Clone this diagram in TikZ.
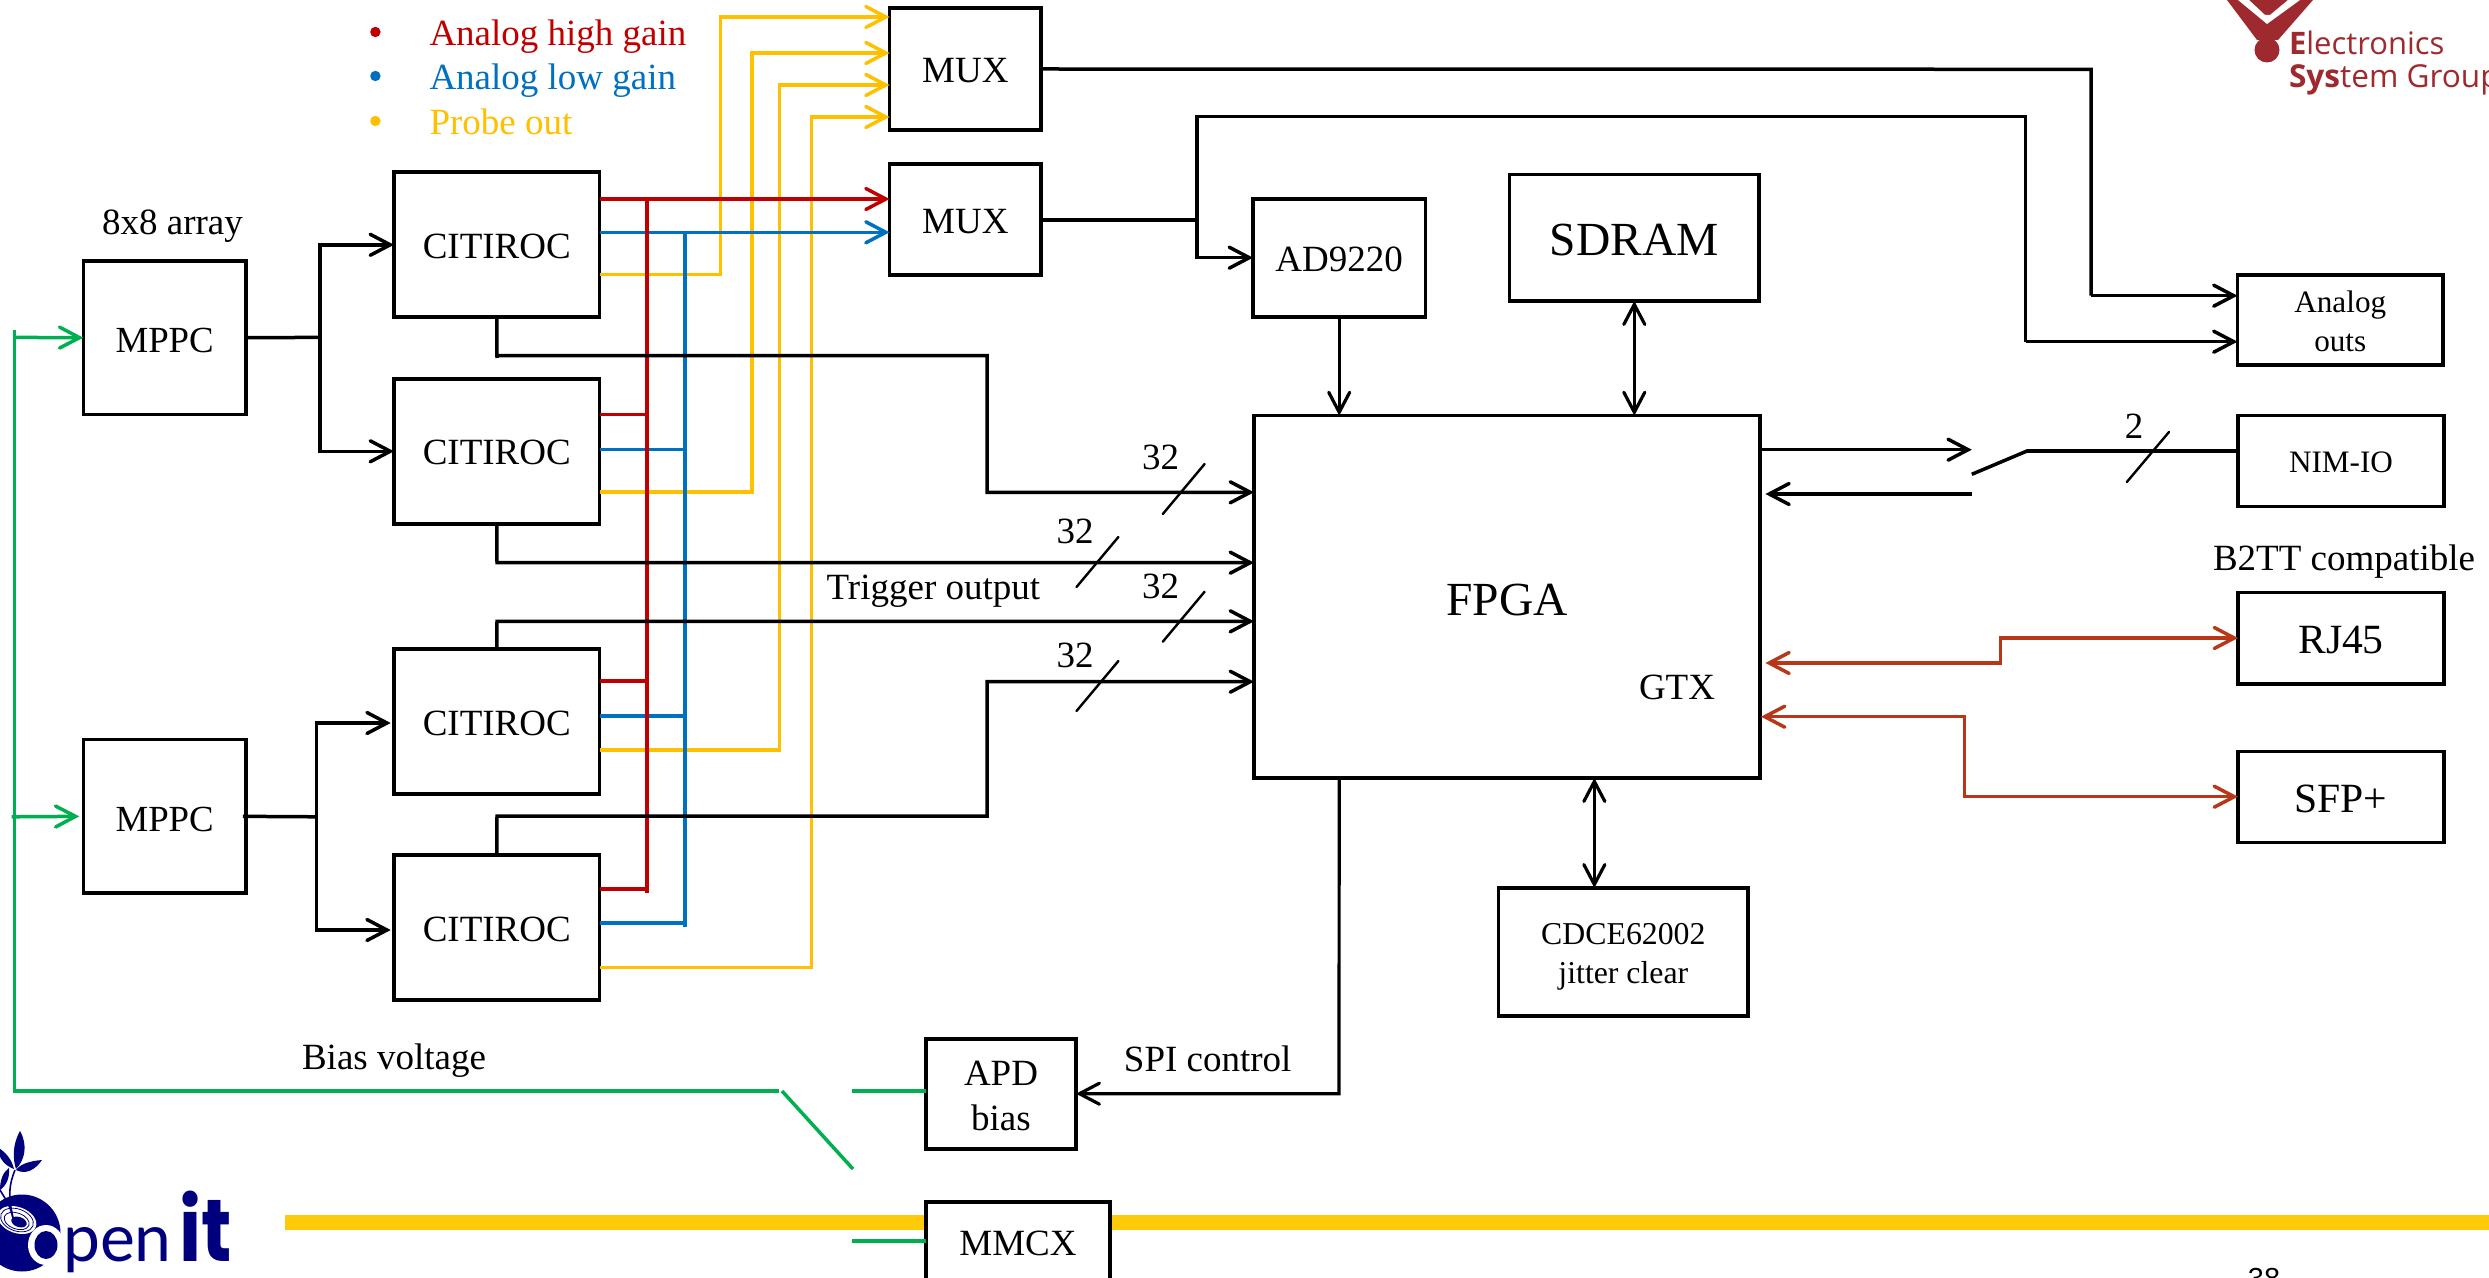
\documentclass[tikz,border=0pt]{standalone}
\usepackage{fontspec}
\usepackage{graphicx}
\setmainfont{Liberation Serif}
\newfontfamily\esgfont{Open Sans}
\newfontfamily\penfont{Lato}
\newfontfamily\itfont{Poppins}
\newfontfamily\pagefont{Liberation Sans}
\usetikzlibrary{arrows.meta}
\definecolor{cred}{HTML}{C00000}
\definecolor{cblue}{HTML}{0070C0}
\definecolor{cyel}{HTML}{FFC000}
\definecolor{cbar}{HTML}{FFCA08}
\definecolor{cgreen}{HTML}{00B050}
\definecolor{crust}{HTML}{B93719}
\definecolor{cesg}{HTML}{9E2A2F}
\definecolor{cnavy}{HTML}{00007F}
\tikzset{
  wire/.style={line width=1.75pt,line join=miter,line cap=butt},
  thinwire/.style={line width=1.6pt},
  tick/.style={line width=1.2pt,line cap=round},
  barb/.tip={Straight Barb[length=10pt,width=10.5pt,line cap=round]},
  boxnode/.style={draw=black,fill=white,line width=1.75pt,inner sep=0pt,outer sep=0pt,text=black,align=center},
  lab/.style={anchor=base,inner sep=0pt,outer sep=0pt},
  bul/.style={circle,inner sep=0pt,minimum size=5.2pt},
}
\newcommand{\bx}[8]{%
  \pgfmathsetmacro\bxcx{(#2+#4)/2}\pgfmathsetmacro\bxcy{(#3+#5)/2}%
  \pgfmathsetmacro\bxw{(#4-#2)*.5}\pgfmathsetmacro\bxh{(#5-#3)*.5}%
  \pgfmathsetmacro\bxt{max(#7-\bxcy,0)}\pgfmathsetmacro\bxd{max(\bxcy-#7,0)}%
  \node[boxnode,minimum width=\bxw pt,minimum height=\bxh pt,text height=\bxt pt,text depth=\bxd pt,
    font=\fontsize{#6}{#6}\selectfont] (#1) at (\bxcx,\bxcy) {#8};}
\newcommand{\twol}[3]{\makebox[0pt]{#1}\makebox[0pt]{\raisebox{-#3pt}{#2}}}
\newcommand{\fs}[1]{\fontsize{#1}{#1}\selectfont}
\begin{document}
\begin{tikzpicture}[x=0.5pt,y=-0.5pt]
\path[use as bounding box,clip] (0,0) rectangle (2489,1278);
\fill[white] (0,0) rectangle (2489,1278);

% ESG logo
\fill[cesg] (2227,0) -- (2257,40) -- (2278,40) -- (2313,0) -- cycle;
\fill[cesg] (2267,50) circle[radius=12.5];
\fill[white] (2238,0) -- (2267,24) -- (2300,0) -- (2288,0) -- (2270,15) -- (2265,15) -- (2249,0) -- cycle;
\node[lab,anchor=base west,text=cesg,font=\esgfont\fs{15.5}] (esg1) at (2289,55) {\textbf{E}lectronics};
\node[lab,anchor=base west,text=cesg,font=\esgfont\fs{15.8}] (esg2) at (2289,88) {\textbf{Sys}tem Group};

% openit logo
\begin{scope}[cnavy]
  \fill (22,1233) circle[radius=38.5];
  \fill[white,rotate around={-20:(17,1220)}] (17,1220) ellipse[x radius=20,y radius=13];
  \draw[line width=.4pt,rotate around={-20:(17,1220)}] (17,1220) ellipse[x radius=17,y radius=11];
  \draw[line width=.4pt,rotate around={-20:(17,1220)}] (17,1221) ellipse[x radius=13,y radius=8];
  \fill[rotate around={-20:(19,1222)}] (19,1222) ellipse[x radius=8,y radius=5];
  \fill[white] (46,1245) ellipse[x radius=18,y radius=20];
  \fill (46,1245) ellipse[x radius=11.5,y radius=14];
  \fill (20,1131) .. controls (12,1145) and (13,1160) .. (16,1169) .. controls (25,1160) and (28,1145) .. (20,1131) -- cycle;
  \fill (42,1160) .. controls (30,1161) and (20,1164) .. (16,1170) .. controls (26,1175) and (35,1170) .. (42,1160) -- cycle;
  \fill (-3,1147) .. controls (-1,1160) and (6,1166) .. (14,1169) .. controls (12,1160) and (6,1152) .. (-3,1147) -- cycle;
  \fill (9,1168) .. controls (3,1172) and (0,1180) .. (0,1190) .. controls (6,1186) and (10,1178) .. (9,1168) -- cycle;
  \draw[line width=.8pt] (15,1170) .. controls (9,1185) and (8,1195) .. (13,1218);
  \draw[line width=.8pt] (0,1190) .. controls (6,1200) and (10,1205) .. (13,1218);
  \node[lab,anchor=base west,text=cnavy,font=\penfont\fs{33}] (penword) at (63,1261.7) {pen};
  \node[lab,anchor=base west,text=cnavy,font=\itfont\bfseries\fs{44}] (itword) at (179,1261.7) {\scalebox{.85}[1]{it}};
\end{scope}

% yellow bar
\fill[cbar] (285,1215) rectangle (2489,1230);

% boxes
\bx{mp1}{83.3}{261}{246}{414.4}{18.4}{352.4}{MPPC}
\bx{mp2}{83.3}{739.7}{246}{893}{18.4}{831}{MPPC}
\bx{c1}{394}{172}{599.5}{317}{18.5}{258.3}{CITIROC}
\bx{c2}{394}{379}{599.5}{524}{18.5}{465}{CITIROC}
\bx{c3}{394}{649}{599.5}{794}{18.5}{735.7}{CITIROC}
\bx{c4}{394}{855}{599.5}{1000}{18.5}{941.7}{CITIROC}
\bx{mx1}{889.6}{8}{1041}{130}{18.5}{82.7}{MUX}
\bx{mx2}{889.6}{164}{1041}{275}{18.5}{234}{MUX}
\bx{ad}{1253}{199}{1425.4}{317}{18.5}{271.7}{AD9220}
\bx{sd}{1509.6}{174.3}{1759}{301}{23.75}{255.7}{SDRAM}
\bx{fp}{1254}{415.7}{1760}{778}{23.75}{615}{}
\bx{ao}{2237.5}{275}{2443}{365}{15.6}{312.7}{\twol{Analog}{outs}{19.2}}
\bx{ni}{2238}{415.7}{2444}{506.7}{15.6}{472.7}{NIM-IO}
\bx{rj}{2238}{592.7}{2444}{684}{20.8}{653}{RJ45}
\bx{sf}{2238}{751.7}{2444}{842.7}{20.8}{812}{SFP+}
\bx{cd}{1498.7}{888}{1748}{1016}{15.9}{944.7}{\twol{CDCE62002}{jitter clear}{19.3}}
\bx{ap}{926}{1039}{1076}{1149}{18.5}{1085.7}{\twol{APD}{bias}{22.5}}
\bx{mm}{926}{1202}{1110}{1320}{18.5}{1255.7}{MMCX}

% labels
\node[lab,font=\fs{23.75}] (fpgat) at (1507,615) {FPGA};
\node[lab,font=\fs{18.5}] (gtx) at (1677,699.3) {GTX};
\node[lab,font=\fs{18.5}] (arr) at (172.5,234.6) {8x8 array};
\node[lab,font=\fs{18.5}] (trig) at (933.4,599) {Trigger output};
\node[lab,font=\fs{18.5}] (b2tt) at (2344,570) {B2TT compatible};
\node[lab,font=\fs{18.5}] (spi) at (1207.7,1071.7) {SPI control};
\node[lab,font=\fs{18.5}] (bias) at (394,1069) {Bias voltage};
\node[lab,font=\fs{18.5}] (n1) at (1160.7,469.3) {32};
\node[lab,font=\fs{18.5}] (n2) at (1075,543.3) {32};
\node[lab,font=\fs{18.5}] (n3) at (1160.7,598.3) {32};
\node[lab,font=\fs{18.5}] (n4) at (1075,667.7) {32};
\node[lab,font=\fs{18.5}] (n5) at (2134,438) {2};
\node[lab,anchor=base west,text=cred,font=\fs{18.5}] (lg1) at (429.5,46) {Analog high gain};
\node[lab,anchor=base west,text=cblue,font=\fs{18.5}] (lg2) at (429.5,90) {Analog low gain};
\node[lab,anchor=base west,text=cyel,font=\fs{18.5}] (lg3) at (429.5,134.3) {Probe out};
\node[bul,fill=cred] (b1) at (375.4,32) {};
\node[bul,fill=cblue] (b2) at (375.4,76) {};
\node[bul,fill=cyel] (b3) at (375.4,121) {};
\node[lab,font=\pagefont\fs{14.5}] (pg) at (2264,1288) {38};

% yellow connectors
\begin{scope}[wire,draw=cyel]
  \draw[-barb] (c1.east |- 0,274.7) -- (720.6,274.7) -- (720.6,17) -- (mx1.west |- 0,17);
  \draw[-barb] (c2.east |- 0,492) -- (752,492) -- (752,53) -- (mx1.west |- 0,53);
  \draw[-barb] (c3.east |- 0,750) -- (779.4,750) -- (779.4,85) -- (mx1.west |- 0,85);
  \draw[-barb] (c4.east |- 0,967.7) -- (811.5,967.7) -- (811.5,117) -- (mx1.west |- 0,117);
\end{scope}
% blue connectors
\begin{scope}[wire,draw=cblue]
  \draw[-barb] (c1.east |- 0,232.3) -- (mx2.west |- 0,232.3);
  \draw (685,232.3) -- (685,927);
  \draw (c2.east |- 0,449.3) -- (685,449.3);
  \draw (c3.east |- 0,716) -- (685,716);
  \draw (c4.east |- 0,923) -- (685,923);
\end{scope}
% red connectors
\begin{scope}[wire,draw=cred]
  \draw[-barb] (c1.east |- 0,199) -- (mx2.west |- 0,199);
  \draw (647,199) -- (647,893);
  \draw (c2.east |- 0,414.7) -- (647,414.7);
  \draw (c3.east |- 0,681) -- (647,681);
  \draw (c4.east |- 0,889) -- (647,889);
\end{scope}
% black connectors
\begin{scope}[wire]
  \draw (mp1.east) -- (320,337.4);
  \draw[-barb] (320,337.4) -- (320,244.8) -- (c1.west |- 0,244.8);
  \draw[-barb] (320,337.4) -- (320,451.3) -- (c2.west |- 0,451.3);
  \draw ([xshift=-1.6pt]mp2.east) -- (316.7,816.8);
  \draw[-barb] (316.7,816.8) -- (316.7,723) -- (390.7,723);
  \draw[-barb] (316.7,816.8) -- (316.7,930) -- (390.7,930);
  \draw[-barb] (c1.south) -- (497,358) (497,355.7) -- (987,355.7) -- (987,492.3) -- (fp.west |- 0,492.3);
  \draw[-barb] (c2.south) -- (497,562.7) -- (fp.west |- 0,562.7);
  \draw[-barb] (c3.north) -- (497,621.3) -- (fp.west |- 0,621.3);
  \draw[-barb] (c4.north) -- (497,816) -- (987,816) -- (987,681.7) -- (fp.west |- 0,681.7);
  \draw (mx1.east) -- (2091,69.3) -- (2091,295.7);
  \draw[-barb] (2091,295.7) -- (ao.west |- 0,295.7);
  \draw (mx2.east |- 0,220) -- (1197,220);
  \draw[thinwire] (1197,220) -- (1197,116.7) -- (2025.7,116.7) -- (2025.7,341.7);
  \draw[-barb] (2025.7,341.7) -- (ao.west |- 0,341.7);
  \draw[-barb] (1197,220) -- (1197,257.7) -- (ad.west |- 0,257.7);
  \draw[-barb,thinwire] (ad.south) -- (fp.north -| ad.south);
  \draw[barb-barb,thinwire] (sd.south) -- (fp.north -| sd.south);
  \draw[barb-barb,thinwire] (fp.south -| cd.north) ++(-29,0) -- ([xshift=-14.5pt]cd.north);
  \draw[-barb,thinwire] (fp.south -| ad.south) -- (1339,1093.7) -- (ap.east |- 0,1093.7);
  \draw[-barb] (fp.east |- 0,449.7) -- (1971.8,449.7);
  \draw[-barb] (1971.8,494) -- (1765.4,494);
  \draw (1971.8,474.3) -- (2027,451) -- (ni.west |- 0,451);
\end{scope}
% rust connectors
\begin{scope}[wire,draw=crust]
  \draw[barb-barb] (1765.4,663) -- (2000.5,663) -- (2000.5,638) -- (rj.west |- 0,638);
  \draw[barb-barb] (1761,716.7) -- (1964.7,716.7) -- (1964.7,796.7) -- (sf.west |- 0,796.7);
\end{scope}
% green connectors
\begin{scope}[wire,draw=cgreen]
  \draw[-barb] (14.3,337.4) -- (mp1.west);
  \draw (779,1091) -- (14.3,1091) -- (14.3,330);
  \draw[-barb] (11.7,816.8) -- ([xshift=-2pt]mp2.west);
  \draw (782,1091) -- (853,1169);
  \draw (852,1091) -- (ap.west |- 0,1091);
  \draw (852,1241) -- (mm.west |- 0,1241);
\end{scope}
% bus ticks
\draw[tick] (1162.8,514) -- (1204.6,464);
\draw[tick] (1076.5,587) -- (1118.4,537);
\draw[tick] (1162.8,641.7) -- (1204.6,591.7);
\draw[tick] (1076.5,711) -- (1118.4,661);
\draw[tick] (2126.8,482) -- (2169,432);
\end{tikzpicture}
\end{document}
